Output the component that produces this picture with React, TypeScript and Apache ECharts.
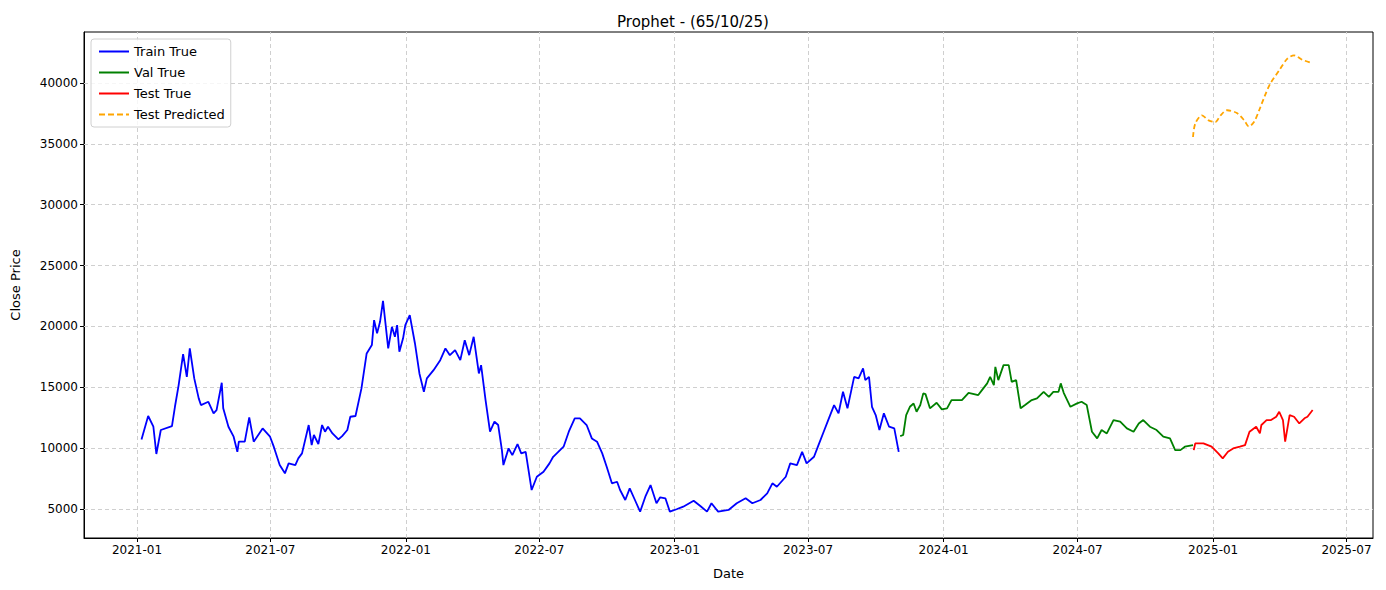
import { useEffect, useRef } from 'react';
import * as echarts from 'echarts';

// day offsets (from 2021-01-01) and close prices
const trainDays = [6, 15, 22, 26, 32, 47, 51, 56, 62, 67, 71, 77, 83, 86, 96, 103, 107, 114, 116, 123, 130, 135, 137, 145, 151, 157, 169, 179, 184, 192, 199, 204, 213, 217, 222, 231, 235, 238, 244, 249, 253, 257, 263, 271, 276, 283, 287, 294, 302, 309, 316, 319, 323, 327, 331, 338, 343, 347, 350, 353, 358, 361, 367, 374, 380, 386, 390, 399, 408, 415, 421, 428, 435, 441, 447, 453, 460, 463, 469, 475, 481, 486, 491, 493, 500, 505, 512, 517, 523, 531, 538, 547, 555, 560, 574, 581, 589, 596, 605, 612, 619, 626, 632, 639, 646, 650, 657, 663, 670, 677, 684, 691, 699, 704, 711, 717, 726, 735, 749, 758, 767, 773, 782, 796, 807, 819, 828, 839, 848, 855, 861, 873, 879, 888, 895, 901, 911, 917, 924, 931, 938, 944, 950, 956, 965, 971, 977, 980, 985, 989, 994, 999, 1005, 1012, 1019, 1025];
const trainVals = [10720, 12640, 11760, 9520, 11490, 11810, 13400, 15180, 17730, 15860, 18190, 15730, 14090, 13540, 13810, 12860, 13130, 15370, 13270, 11760, 10940, 9700, 10530, 10530, 12530, 10530, 11620, 10940, 10120, 8610, 7930, 8750, 8610, 9160, 9570, 11900, 10250, 11080, 10340, 11900, 11350, 11760, 11210, 10720, 10990, 11490, 12580, 12640, 14910, 17780, 18470, 20520, 19430, 20380, 22100, 18190, 19970, 19150, 20110, 17920, 19020, 20110, 20930, 18600, 16140, 14630, 15730, 16410, 17230, 18190, 17640, 18050, 17230, 18870, 17640, 19150, 16140, 16820, 13950, 11350, 12170, 11900, 9840, 8610, 9980, 9430, 10340, 9570, 9700, 6560, 7650, 8060, 8750, 9290, 10120, 11350, 12450, 12450, 11900, 10800, 10530, 9570, 8470, 7110, 7240, 6560, 5740, 6700, 5740, 4780, 6010, 6970, 5470, 5960, 5880, 4780, 4980, 5190, 5680, 5250, 4780, 5470, 4780, 4920, 5470, 5880, 5470, 5740, 6290, 7110, 6830, 7650, 8750, 8610, 9700, 8750, 9290, 10250, 11350, 12450, 13540, 12860, 14630, 13270, 15860, 15730, 16550, 15590, 15860, 13400, 12720, 11490, 12860, 11760, 11620, 9700];

const valDays = [1027, 1031, 1035, 1040, 1045, 1049, 1054, 1058, 1061, 1067, 1076, 1083, 1090, 1096, 1110, 1119, 1132, 1137, 1144, 1148, 1153, 1155, 1159, 1166, 1173, 1177, 1183, 1189, 1195, 1204, 1211, 1220, 1227, 1233, 1240, 1243, 1247, 1256, 1265, 1271, 1278, 1285, 1292, 1298, 1305, 1314, 1323, 1332, 1341, 1348, 1354, 1363, 1372, 1381, 1390, 1397, 1404, 1410, 1421];
const valVals = [10990, 11080, 12720, 13400, 13670, 12990, 13540, 14500, 14440, 13270, 13730, 13190, 13270, 13950, 13950, 14550, 14360, 14770, 15320, 15860, 15180, 16680, 15590, 16820, 16820, 15450, 15590, 13270, 13540, 13950, 14090, 14630, 14220, 14630, 14630, 15320, 14550, 13400, 13680, 13810, 13540, 11350, 10800, 11490, 11210, 12310, 12170, 11620, 11350, 12030, 12310, 11760, 11490, 10940, 10800, 9840, 9840, 10120, 10250];

const testDays = [1422, 1424, 1435, 1446, 1455, 1461, 1468, 1475, 1484, 1491, 1497, 1506, 1511, 1513, 1520, 1526, 1533, 1537, 1542, 1545, 1551, 1557, 1564, 1571, 1575, 1582];
const testVals = [9840, 10390, 10390, 10120, 9570, 9160, 9700, 9980, 10120, 10250, 11350, 11760, 11210, 11900, 12310, 12310, 12580, 12990, 12310, 10530, 12720, 12580, 12030, 12450, 12580, 13130];

const predDays = [1421, 1424, 1433, 1442, 1451, 1458, 1467, 1480, 1490, 1496, 1503, 1510, 1517, 1525, 1537, 1548, 1557, 1568, 1581];
const predVals = [35560, 36660, 37340, 36930, 36790, 37340, 37760, 37530, 36930, 36430, 36790, 37760, 38850, 39950, 41040, 42000, 42270, 41910, 41640];

const xTicks = ['2021-01', '2021-07', '2022-01', '2022-07', '2023-01', '2023-07', '2024-01', '2024-07', '2025-01', '2025-07'];
const yTicks = [5000, 10000, 15000, 20000, 25000, 30000, 35000, 40000];

const DAY = 86400000;
const BASE = Date.UTC(2021, 0, 1);
// my day readings were taken on a slightly short pixel scale
const CAL = 1.0089;
const toMs = (d: number) => BASE + d * CAL * DAY;
const pairs = (days: number[], vals: number[]) => days.map((d, i) => [toMs(d), vals[i]]);
const tickMs = xTicks.map(t => Date.UTC(+t.slice(0, 4), +t.slice(5) - 1, 1));
const fmt = (v: number) => {
  const d = new Date(v);
  return `${d.getUTCFullYear()}-${String(d.getUTCMonth() + 1).padStart(2, '0')}`;
};

const FONT = 'DejaVu Sans';
const gridLine = { color: '#cfcfcf', type: [4, 3] as number[], width: 1 };
const solidIcon = 'path://M0,0h30v2h-30z';
const dashIcon = 'path://M0,0h6v2h-6z M9,0h6v2h-6z M18,0h6v2h-6z M27,0h3v2h-3z';

export default function App() {
  const chartRef = useRef<HTMLDivElement>(null);

  useEffect(() => {
    if (!chartRef.current) return;
    document.body.style.margin = '0';
    const chart = echarts.init(chartRef.current, null, { renderer: 'svg' });

    const option: echarts.EChartsOption = {
      animation: false,
      backgroundColor: '#fff',
      textStyle: { fontFamily: FONT },
      title: {
        text: 'Prophet - (65/10/25)',
        left: 'center',
        top: 9,
        textStyle: { fontFamily: FONT, fontSize: 15, fontWeight: 'normal', color: '#000' },
      },
      grid: { left: 84, right: 13, top: 32, bottom: 52, show: true, borderColor: '#000', borderWidth: 1, backgroundColor: 'transparent' },
      legend: {
        orient: 'vertical',
        left: 91,
        top: 39,
        itemGap: 8,
        itemWidth: 30,
        itemHeight: 2,
        padding: [6, 6, 6, 8],
        borderColor: '#d0d0d0',
        borderWidth: 1,
        borderRadius: 3,
        backgroundColor: 'rgba(255,255,255,0.8)',
        textStyle: { fontFamily: FONT, fontSize: 13, color: '#000', lineHeight: 13 },
        data: [
          { name: 'Train True', icon: solidIcon },
          { name: 'Val True', icon: solidIcon },
          { name: 'Test True', icon: solidIcon },
          { name: 'Test Predicted', icon: dashIcon },
        ],
      },
      xAxis: {
        type: 'value',
        min: toMs(-72 / CAL),
        max: toMs(1678 / CAL),
        name: 'Date',
        nameLocation: 'middle',
        nameGap: 29,
        nameTextStyle: { fontFamily: FONT, fontSize: 13, color: '#000' },
        splitLine: { show: false },
        axisLine: { lineStyle: { color: '#000' } },
        axisTick: { customValues: tickMs, length: 4, lineStyle: { color: '#000' } },
        axisLabel: { customValues: tickMs, formatter: (v: number) => fmt(v), fontFamily: FONT, fontSize: 12, color: '#000', margin: 6 },
      },
      yAxis: {
        type: 'value',
        min: 2618,
        max: 44190,
        name: 'Close Price',
        nameLocation: 'middle',
        nameGap: 62,
        nameTextStyle: { fontFamily: FONT, fontSize: 13, color: '#000' },
        splitLine: { show: false },
        axisLine: { show: true, lineStyle: { color: '#000' } },
        axisTick: { show: true, customValues: yTicks, length: 4, lineStyle: { color: '#000' } },
        axisLabel: { customValues: yTicks, formatter: (v: number) => String(v), fontFamily: FONT, fontSize: 12, color: '#000', margin: 6 },
      },
      series: [
        {
          name: 'Train True',
          type: 'line',
          data: pairs(trainDays, trainVals),
          symbol: 'none',
          lineStyle: { color: '#0000ff', width: 1.8 },
          itemStyle: { color: '#0000ff' },
          z: 3,
          markLine: {
            silent: true,
            symbol: 'none',
            label: { show: false },
            lineStyle: gridLine,
            emphasis: { disabled: true },
            data: [
              ...tickMs.map(t => ({ xAxis: t })),
              ...yTicks.map(v => ({ yAxis: v })),
            ],
            z: 1,
          },
        },
        {
          name: 'Val True',
          type: 'line',
          data: pairs(valDays, valVals),
          symbol: 'none',
          lineStyle: { color: '#008000', width: 1.8 },
          itemStyle: { color: '#008000' },
          z: 3,
        },
        {
          name: 'Test True',
          type: 'line',
          data: pairs(testDays, testVals),
          symbol: 'none',
          lineStyle: { color: '#ff0000', width: 1.8 },
          itemStyle: { color: '#ff0000' },
          z: 3,
        },
        {
          name: 'Test Predicted',
          type: 'line',
          data: pairs(predDays, predVals),
          symbol: 'none',
          smooth: 0.3,
          lineStyle: { color: '#ffa500', width: 1.8, type: [5, 3] },
          itemStyle: { color: '#ffa500' },
          z: 3,
        },
      ],
    };

    chart.setOption(option);
    return () => chart.dispose();
  }, []);

  return <div ref={chartRef} style={{ width: 1386, height: 590 }} />;
}
